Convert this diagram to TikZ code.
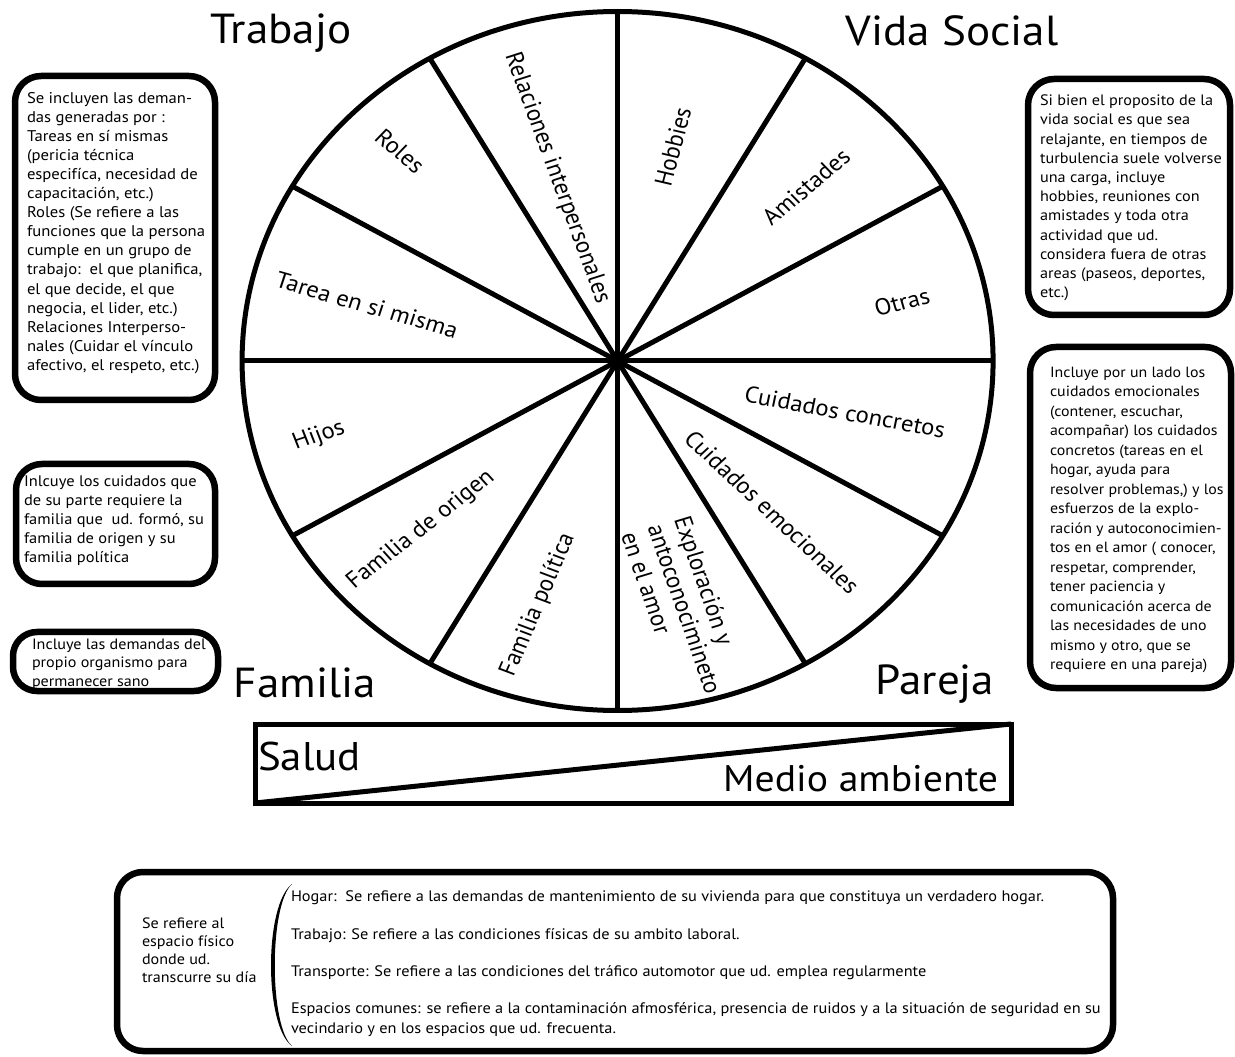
\documentclass[tikz,border=0pt]{standalone}
\usepackage{fontspec}
\setmainfont{PT Sans}
\usetikzlibrary{calc}
\newcommand\bxfont[2]{\fontsize{#1}{#2}\selectfont}
\begin{document}
\begin{tikzpicture}[x={(0.931099pt,0pt)}, y={(0pt,-1pt)}, xscale=1.074,
  every node/.style={transform shape, inner sep=0pt, outer sep=0pt},
  frame/.style={line width=6.5pt, rounded corners=26pt},
  wheelline/.style={line width=5pt},
  txt/.style={align=left, anchor=north west},
  wl/.style={font=\fontsize{23}{26}\selectfont, anchor=center},
  big/.style={font=\fontsize{42}{50}\selectfont, anchor=base}]
\useasboundingbox (0,0) rectangle (1235,1057);

% wheel
\coordinate (c) at (617.5,361);
\draw[wheelline] (c) ellipse [x radius=375.5, y radius=349.5];
\foreach \a in {0,30,...,330}
  \draw[wheelline] (c) -- ++(\a:375.5 and 349.5);

% wheel labels
\node[wl, rotate=-71] (rel) at (557,178) {Relaciones interpersonales};
\node[wl, rotate=76] (hob) at (673,147) {Hobbies};
\node[wl, rotate=42] (ami) at (806,187) {Amistades};
\node[wl, rotate=15] (otr) at (902,302) {Otras};
\node[wl, rotate=-11] (cco) at (845,412) {Cuidados concretos};
\node[wl, rotate=-45] (cem) at (772,512) {Cuidados emocionales};
\node[wl, rotate=-72, align=left] (exp) at (685,609) {Exploración y\\antoconocimineto\\en el amor};
\node[wl, rotate=68] (fpo) at (538,605) {Familia política};
\node[wl, rotate=40] (fori) at (421,530) {Familia de origen};
\node[wl, rotate=20] (hij) at (319,436) {Hijos};
\node[wl, rotate=-17] (tar) at (367,305) {Tarea en si misma};
\node[wl, rotate=-42] (rol) at (400,151) {Roles};

% big labels
\node[big] (trab) at (281,44) {Trabajo};
\node[big] (vida) at (952,46) {Vida Social};
\node[big] (fam) at (305,697) {Familia};
\node[big] (par) at (935,694.5) {Pareja};

% salud / medio ambiente
\draw[line width=5pt] (255,724) rectangle (1011,803);
\draw[line width=5pt] (255,803) -- (1011,724);
\node[font=\fontsize{40}{48}\selectfont, anchor=base west] (sal) at (258,770) {Salud};
\node[font=\fontsize{37}{44}\selectfont, anchor=base east] (med) at (998,792) {Medio ambiente};

% boxes
\draw[frame] (15,76) rectangle (215,400);
\node[txt, font=\bxfont{15.5}{19.1}] (ta) at (27,92) {Se incluyen las deman-\\das generadas por :\\Tareas en sí mismas\\(pericia técnica\\especifíca, necesidad de\\capacitación, etc.)\\Roles (Se refiere a las\\funciones que la persona\\cumple en un grupo de\\trabajo:\ \ el que planifica,\\el que decide, el que\\negocia, el lider, etc.)\\Relaciones Interperso-\\nales (Cuidar el vínculo\\afectivo, el respeto, etc.)};

\draw[frame] (1028,79) rectangle (1230,315);
\node[txt, font=\bxfont{15.1}{19.2}] (tb) at (1040,95) {Si bien el proposito de la\\vida social es que sea\\relajante, en tiempos de\\turbulencia suele volverse\\una carga, incluye\\hobbies, reuniones con\\amistades y toda otra\\actividad que ud.\\considera fuera de otras\\areas (paseos, deportes,\\etc.)};

\draw[frame] (1030,347) rectangle (1231,688);
\node[txt, font=\bxfont{14.8}{19.5}] (tc) at (1050,367) {Incluye por un lado los\\cuidados emocionales\\(contener, escuchar,\\acompañar) los cuidados\\concretos (tareas en el\\hogar, ayuda para\\resolver problemas,) y los\\esfuerzos de la explo-\\ración y autoconocimien-\\tos en el amor ( conocer,\\respetar, comprender,\\tener paciencia y\\comunicación acerca de\\las necesidades de uno\\mismo y otro, que se\\requiere en una pareja)};

\draw[frame] (16,464) rectangle (215,584);
\node[txt, font=\bxfont{15.3}{18.8}] (td) at (24,476) {Inlcuye los cuidados que\\de su parte requiere la\\familia que\ \ ud. formó, su\\familia de origen y su\\familia política};

\draw[frame, rounded corners=24pt] (13,632) rectangle (218,691);
\node[txt, font=\bxfont{15}{18.3}] (te) at (32,639) {Incluye las demandas del\\propio organismo para\\permanecer sano};

\draw[frame] (117,872) rectangle (1113,1051);
\node[txt, font=\bxfont{15}{18}] (tf) at (142,918) {Se refiere al\\espacio físico\\donde ud.\\transcurre su día};
\fill (292,884) .. controls (264,905) and (264,1026) .. (292,1046)
      .. controls (269,1026) and (269,905) .. (292,884) -- cycle;
\node[txt, font=\bxfont{15.2}{20}] (tg) at (291,891) {Hogar:\ \ Se refiere a las demandas de mantenimiento de su vivienda para que constituya un verdadero hogar.\\[17.5pt]Trabajo: Se refiere a las condiciones físicas de su ambito laboral.\\[17pt]Transporte: Se refiere a las condiciones del tráfico automotor que ud. emplea regularmente\\[17pt]Espacios comunes: se refiere a la contaminación afmosférica, presencia de ruidos y a la situación de seguridad en su\\vecindario y en los espacios que ud. frecuenta.};
\end{tikzpicture}
\end{document}
